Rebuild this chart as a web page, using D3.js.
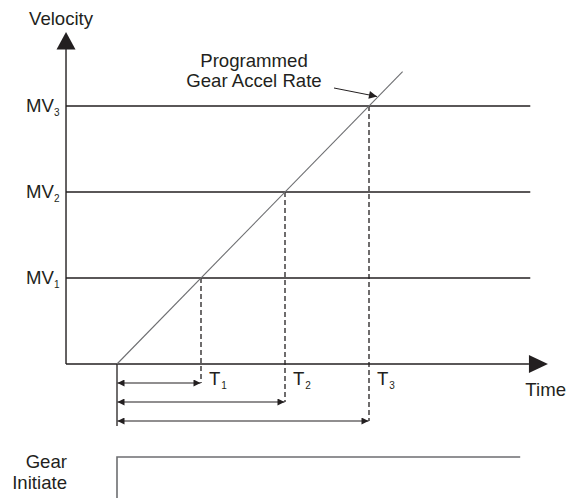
<!DOCTYPE html>
<html>
<head>
<meta charset="utf-8">
<script src="https://cdn.jsdelivr.net/npm/d3@7"></script>
<style>
  html, body { margin: 0; padding: 0; background: #fff; }
  svg { display: block; }
  text { font-family: "Liberation Sans", Arial, sans-serif; fill: #231f20; }
</style>
</head>
<body>
<svg id="chart" width="567" height="498"></svg>
<script>
// Velocity levels reached by the gear ramp (multiples of the base step)
const velocityLevels = [1, 2, 3];
const velocityNames = ["1", "2", "3"];
// Times at which each level is reached
const timePoints = [1, 2, 3];
const timeNames = ["1", "2", "3"];
// Programmed accel ramp: time -> velocity
const rampTimes = [0, 3.4];
const rampVelocities = [0, 3.4];
// Gear initiate signal: low before start, high after
const gearTimes = [0, 0, 4.8];
const gearLevels = [0, 1, 1];

const svg = d3.select("#chart");
const ink = "#231f20";

const x = d3.scaleLinear().domain([0, 3]).range([117, 369]);
const y = d3.scaleLinear().domain([0, 3]).range([364, 106]);
// Gear initiate trace scale
const yg = d3.scaleLinear().domain([0, 1]).range([520, 457]);

const xAxisStart = -0.607, xAxisEnd = 5.13, xLinesEnd = 4.92;
const yAxisTop = 3.86;

// Arrowhead markers
const defs = svg.append("defs");
defs.append("marker")
  .attr("id", "tip").attr("viewBox", "0 0 10 10")
  .attr("refX", 10).attr("refY", 5)
  .attr("markerWidth", 8).attr("markerHeight", 7)
  .attr("markerUnits", "userSpaceOnUse")
  .attr("orient", "auto-start-reverse")
  .append("path").attr("d", "M0,0L10,5L0,10Z").attr("fill", ink);
defs.append("marker")
  .attr("id", "calloutTip").attr("viewBox", "0 0 10 10")
  .attr("refX", 10).attr("refY", 5)
  .attr("markerWidth", 11).attr("markerHeight", 8)
  .attr("markerUnits", "userSpaceOnUse")
  .attr("orient", "auto")
  .append("path").attr("d", "M0,0L10,5L0,10Z").attr("fill", ink);

// Horizontal velocity level lines
svg.append("g").selectAll("line").data(velocityLevels).join("line")
  .attr("x1", x(xAxisStart)).attr("x2", x(xLinesEnd))
  .attr("y1", d => y(d)).attr("y2", d => y(d))
  .attr("stroke", ink).attr("stroke-width", 1.3);

// Axes
svg.append("line")
  .attr("x1", x(xAxisStart)).attr("x2", x(xAxisStart))
  .attr("y1", y(0)).attr("y2", y(yAxisTop) + 17)
  .attr("stroke", ink).attr("stroke-width", 1.4);
svg.append("path")
  .attr("d", `M${x(xAxisStart)},${y(yAxisTop)}L${x(xAxisStart) + 9.5},${y(yAxisTop) + 17.5}L${x(xAxisStart) - 9.5},${y(yAxisTop) + 17.5}Z`)
  .attr("fill", ink);
svg.append("line")
  .attr("x1", x(xAxisStart)).attr("x2", x(xAxisEnd) - 19)
  .attr("y1", y(0)).attr("y2", y(0))
  .attr("stroke", ink).attr("stroke-width", 1.4);
svg.append("path")
  .attr("d", `M${x(xAxisEnd)},${y(0)}L${x(xAxisEnd) - 19},${y(0) - 9}L${x(xAxisEnd) - 19},${y(0) + 9}Z`)
  .attr("fill", ink);

// Dashed drop lines from each level down to its time arrow
const arrowRows = [383, 402, 421];
svg.append("g").selectAll("line").data(timePoints).join("line")
  .attr("x1", d => x(d)).attr("x2", d => x(d))
  .attr("y1", (d, i) => y(velocityLevels[i])).attr("y2", (d, i) => arrowRows[i])
  .attr("stroke", ink).attr("stroke-width", 1.3)
  .attr("stroke-dasharray", "5,3");

// Start tick below the time axis
svg.append("line")
  .attr("x1", x(0)).attr("x2", x(0))
  .attr("y1", y(0)).attr("y2", 426)
  .attr("stroke", ink).attr("stroke-width", 1.3);

// Duration arrows
svg.append("g").selectAll("line").data(timePoints).join("line")
  .attr("x1", x(0) + 0.5).attr("x2", d => x(d) - 0.5)
  .attr("y1", (d, i) => arrowRows[i]).attr("y2", (d, i) => arrowRows[i])
  .attr("stroke", ink).attr("stroke-width", 1.2)
  .attr("marker-start", "url(#tip)").attr("marker-end", "url(#tip)");

// Programmed accel ramp
svg.append("path")
  .datum(rampTimes.map((t, i) => [t, rampVelocities[i]]))
  .attr("d", d3.line().x(d => x(d[0])).y(d => y(d[1])))
  .attr("fill", "none").attr("stroke", "#6d6e71").attr("stroke-width", 1.1);

// Callout arrow to the ramp
svg.append("line")
  .attr("x1", 334).attr("y1", 88)
  .attr("x2", 377).attr("y2", 96.5)
  .attr("stroke", ink).attr("stroke-width", 1)
  .attr("marker-end", "url(#calloutTip)");

// Gear initiate trace
svg.append("path")
  .datum(gearTimes.map((t, i) => [t, gearLevels[i]]))
  .attr("d", d3.line().x(d => x(d[0])).y(d => yg(d[1])))
  .attr("fill", "none").attr("stroke", "#6d6e71").attr("stroke-width", 1.6);

const fs = 18.6;
// Text labels
svg.append("text").attr("x", 29).attr("y", 25).attr("font-size", fs).text("Velocity");
svg.append("text").attr("x", 566).attr("y", 396).attr("font-size", fs)
  .attr("text-anchor", "end").text("Time");
svg.append("text").attr("x", 254).attr("y", 67).attr("font-size", fs)
  .attr("text-anchor", "middle").text("Programmed");
svg.append("text").attr("x", 254).attr("y", 87).attr("font-size", fs)
  .attr("text-anchor", "middle").text("Gear Accel Rate");
svg.append("text").attr("x", 67).attr("y", 468).attr("font-size", fs)
  .attr("text-anchor", "end").text("Gear");
svg.append("text").attr("x", 67).attr("y", 489).attr("font-size", fs)
  .attr("text-anchor", "end").text("Initiate");

// MV labels with subscripts
const mv = svg.append("g").selectAll("text").data(velocityLevels).join("text")
  .attr("x", 26).attr("y", d => y(d) + 6).attr("font-size", fs);
mv.append("tspan").text("MV");
mv.append("tspan").attr("font-size", 10).attr("dy", 4).text((d, i) => velocityNames[i]);

// T labels with subscripts
const tl = svg.append("g").selectAll("text").data(timePoints).join("text")
  .attr("x", d => x(d) + 8).attr("y", y(0) + 21).attr("font-size", fs);
tl.append("tspan").text("T");
tl.append("tspan").attr("font-size", 10).attr("dy", 4).attr("dx", 1).text((d, i) => timeNames[i]);
</script>
</body>
</html>
